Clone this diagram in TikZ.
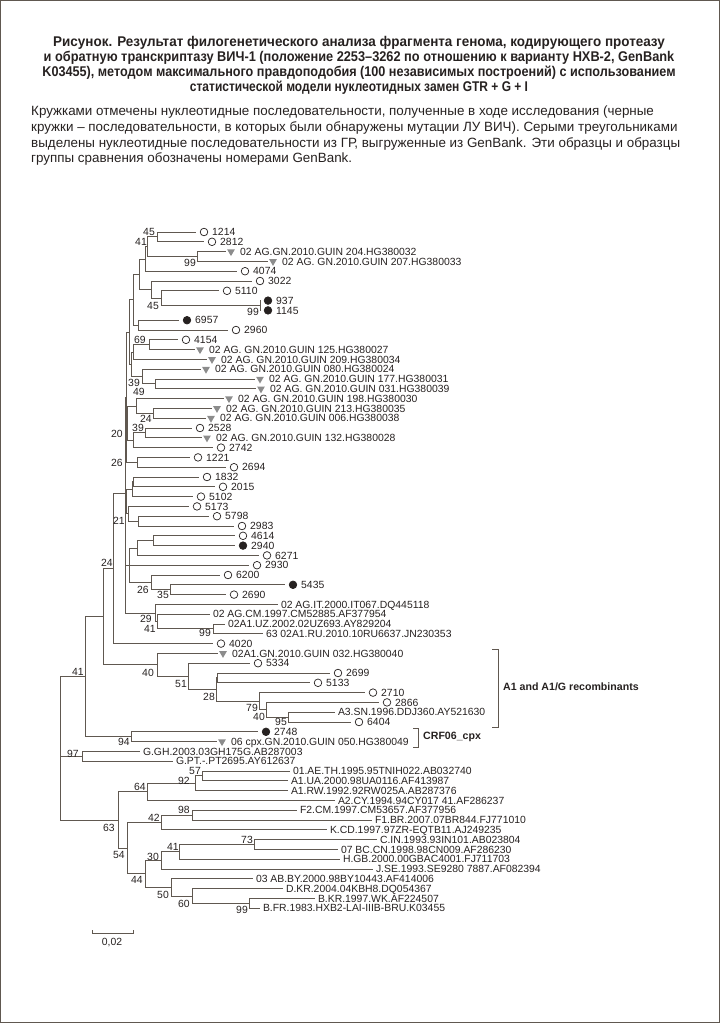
\documentclass[tikz,border=0pt]{standalone}
\usepackage{fontspec}
\usepackage{graphicx}
\setmainfont{Liberation Sans}
\usetikzlibrary{shapes.geometric,positioning}
\definecolor{branch}{RGB}{96,88,80}
\definecolor{ink}{RGB}{38,33,32}
\definecolor{greytri}{RGB}{140,140,140}
% row of a leaf -> y
\newcommand\rowy[1]{232+9.8*(#1-1)}
% leaves: name, x, row, text
\newcommand\opleaf[4]{\node[opn] (#1) at (#2,{\rowy{#3}}) {};
  \node[lbl] (#1t) at (#2+8,{\rowy{#3}}) {#4};}
\newcommand\blleaf[4]{\node[fil] (#1) at (#2,{\rowy{#3}}) {};
  \node[lbl] (#1t) at (#2+8,{\rowy{#3}}) {#4};}
\newcommand\trleaf[4]{\node[trg] (#1) at (#2,{\rowy{#3}}) {};
  \node[lbl] (#1t) at (#2+9,{\rowy{#3}}) {#4};}
\newcommand\txleaf[4]{\node[lbl,outer sep=3pt] (#1) at (#2,{\rowy{#3}}) {#4};}
% squeezed caption line
\newcommand\capline[2]{\scalebox{#1}[1]{#2}}

\begin{document}
\begin{tikzpicture}[x=1pt,y=-1pt,line join=miter,
  font=\fontsize{10.4}{12}\selectfont,
  br/.style={draw=branch,line width=0.9pt},
  lbl/.style={anchor=west,inner sep=0pt,text=ink,text height=7.4pt,text depth=0pt},
  opn/.style={circle,draw=ink,line width=0.7pt,minimum size=7.6pt,inner sep=0pt,outer sep=4.5pt},
  fil/.style={opn,fill=ink},
  trg/.style={regular polygon,regular polygon sides=3,shape border rotate=180,fill=greytri,minimum size=9pt,inner sep=0pt,outer sep=2pt},
  bs/.style={inner sep=0pt,text=ink},
  brk/.style={draw=branch,line width=0.9pt}]
\useasboundingbox (0,0) rectangle (720,1023);
\draw[branch,line width=1pt] (0.5,0.5) rectangle (719.5,1022.5);

% caption
\node[align=center,text=ink,font=\bfseries\fontsize{14.1}{15}\selectfont,anchor=north] (title) at (359,33) {%
\capline{0.955}{Рисунок. Результат филогенетического анализа фрагмента генома, кодирующего протеазу}\\
\capline{0.906}{и обратную транскриптазу ВИЧ-1 (положение 2253–3262 по отношению к варианту HXB-2, GenBank}\\
\capline{0.896}{K03455), методом максимального правдоподобия (100 независимых построений) с использованием}\\
\capline{0.85}{статистической модели нуклеотидных замен GTR + G + I}};
\node[align=left,text=ink,font=\fontsize{13.4}{15.6}\selectfont,anchor=north west,inner sep=0pt] (note) at (31,106) {%
Кружками отмечены нуклеотидные последовательности, полученные в ходе исследования (черные\\
кружки – последовательности, в которых были обнаружены мутации ЛУ ВИЧ). Серыми треугольниками\\
выделены нуклеотидные последовательности из ГР, выгруженные из GenBank. Эти образцы и образцы\\
группы сравнения обозначены номерами GenBank.};

% leaves
\opleaf{l1214}{204}{1}{1214}
\opleaf{l2812}{212}{2}{2812}
\trleaf{l204}{231}{3}{02 AG.GN.2010.GUIN 204.HG380032}
\trleaf{l207}{273}{4}{02 AG. GN.2010.GUIN 207.HG380033}
\opleaf{l4074}{245}{5}{4074}
\opleaf{l3022}{260}{6}{3022}
\opleaf{l5110}{227}{7}{5110}
\blleaf{l937}{268}{8}{937}
\blleaf{l1145}{268}{9}{1145}
\blleaf{l6957}{187}{10}{6957}
\opleaf{l2960}{236}{11}{2960}
\opleaf{l4154}{186}{12}{4154}
\trleaf{l125}{200}{13}{02 AG. GN.2010.GUIN 125.HG380027}
\trleaf{l209}{212}{14}{02 AG. GN.2010.GUIN 209.HG380034}
\trleaf{l080}{206}{15}{02 AG. GN.2010.GUIN 080.HG380024}
\trleaf{l177}{260}{16}{02 AG. GN.2010.GUIN 177.HG380031}
\trleaf{l031}{261}{17}{02 AG. GN.2010.GUIN 031.HG380039}
\trleaf{l198}{229}{18}{02 AG. GN.2010.GUIN 198.HG380030}
\trleaf{l213}{217}{19}{02 AG. GN.2010.GUIN 213.HG380035}
\trleaf{l006}{211}{20}{02 AG. GN.2010.GUIN 006.HG380038}
\opleaf{l2528}{200}{21}{2528}
\trleaf{l132}{207}{22}{02 AG. GN.2010.GUIN 132.HG380028}
\opleaf{l2742}{221}{23}{2742}
\opleaf{l1221}{198}{24}{1221}
\opleaf{l2694}{234}{25}{2694}
\opleaf{l1832}{207}{26}{1832}
\opleaf{l2015}{223}{27}{2015}
\opleaf{l5102}{201}{28}{5102}
\opleaf{l5173}{197}{29}{5173}
\opleaf{l5798}{217}{30}{5798}
\opleaf{l2983}{242}{31}{2983}
\opleaf{l4614}{243}{32}{4614}
\blleaf{l2940}{243}{33}{2940}
\opleaf{l6271}{267}{34}{6271}
\opleaf{l2930}{257}{35}{2930}
\opleaf{l6200}{228}{36}{6200}
\blleaf{l5435}{293}{37}{5435}
\opleaf{l2690}{234}{38}{2690}
\txleaf{lIT}{278}{39}{02 AG.IT.2000.IT067.DQ445118}
\txleaf{lCM}{210}{40}{02 AG.CM.1997.CM52885.AF377954}
\txleaf{lUZ}{225}{41}{02A1.UZ.2002.02UZ693.AY829204}
\txleaf{lRU}{263}{42}{63 02A1.RU.2010.10RU6637.JN230353}
\opleaf{l4020}{221}{43}{4020}
\trleaf{lGN}{223}{44}{02A1.GN.2010.GUIN 032.HG380040}
\opleaf{l5334}{258}{45}{5334}
\opleaf{l2699}{338}{46}{2699}
\opleaf{l5133}{318}{47}{5133}
\opleaf{l2710}{373}{48}{2710}
\opleaf{l2866}{387}{49}{2866}
\txleaf{lA3}{335}{50}{A3.SN.1996.DDJ360.AY521630}
\opleaf{l6404}{359}{51}{6404}
\blleaf{l2748}{266}{52}{2748}
\trleaf{lcpx}{222}{53}{06 cpx.GN.2010.GUIN 050.HG380049}
\txleaf{lGGH}{140}{54}{G.GH.2003.03GH175G.AB287003}
\txleaf{lGPT}{173}{55}{G.PT.-.PT2695.AY612637}
\txleaf{lAE}{290}{56}{01.AE.TH.1995.95TNIH022.AB032740}
\txleaf{lUA}{288}{57}{A1.UA.2000.98UA0116.AF413987}
\txleaf{lRW}{288}{58}{A1.RW.1992.92RW025A.AB287376}
\txleaf{lCY}{335}{59}{A2.CY.1994.94CY017 41.AF286237}
\txleaf{lF2}{297}{60}{F2.CM.1997.CM53657.AF377956}
\txleaf{lF1}{372}{61}{F1.BR.2007.07BR844.FJ771010}
\txleaf{lKCD}{327}{62}{K.CD.1997.97ZR-EQTB11.AJ249235}
\txleaf{lCIN}{377}{63}{C.IN.1993.93IN101.AB023804}
\txleaf{lBC}{338}{64}{07 BC.CN.1998.98CN009.AF286230}
\txleaf{lHGB}{340}{65}{H.GB.2000.00GBAC4001.FJ711703}
\txleaf{lJSE}{373}{66}{J.SE.1993.SE9280 7887.AF082394}
\txleaf{lAB}{253}{67}{03 AB.BY.2000.98BY10443.AF414006}
\txleaf{lDKR}{283}{68}{D.KR.2004.04KBH8.DQ054367}
\txleaf{lBKR}{315}{69}{B.KR.1997.WK.AF224507}
\txleaf{lBFR}{260}{70}{B.FR.1983.HXB2-LAI-IIIB-BRU.K03455}

% internal nodes
\coordinate (n45a) at (157,236.9);
\coordinate (n99a) at (197,256.5);
\coordinate (n41a) at (147,246.7);
\coordinate (q1) at (145,259.0);
\coordinate (n99b) at (260,305.5);
\coordinate (n45b) at (161,298.2);
\coordinate (q2) at (151,289.6);
\coordinate (q3) at (139,274.3);
\coordinate (q4) at (138,325.1);
\coordinate (q5) at (133,299.7);
\coordinate (n69) at (149,344.7);
\coordinate (q6) at (133,352.1);
\coordinate (n49) at (155,383.9);
\coordinate (n39a) at (142,376.6);
\coordinate (q7) at (131,364.3);
\coordinate (n24b) at (153,413.3);
\coordinate (q8) at (136,406.0);
\coordinate (n39b) at (145,432.9);
\coordinate (q9) at (133,440.3);
\coordinate (n20) at (127.5,423.1);
\coordinate (n26a) at (137,462.3);
\coordinate (q10) at (133,481.9);
\coordinate (q11) at (132,489.3);
\coordinate (q12) at (138,521.1);
\coordinate (q13) at (128,513.8);
\coordinate (n21) at (126,501.5);
\coordinate (n14) at (153,540.7);
\coordinate (q15) at (137,548.0);
\coordinate (n35) at (170,589.7);
\coordinate (n26b) at (151,582.4);
\coordinate (q17) at (129,565.2);
\coordinate (n99c) at (213,628.9);
\coordinate (n41c) at (157,621.5);
\coordinate (n29) at (155,613.0);
\coordinate (z) at (125.5,589.1);
\coordinate (c1) at (129,332.0);
\coordinate (ua) at (126,397.15);
\coordinate (uu) at (125,493.1);
\coordinate (n24) at (113,568.35);
\coordinate (q18) at (217,677.9);
\coordinate (n95) at (288,717.1);
\coordinate (n40b) at (266,709.8);
\coordinate (n79) at (259,701.2);
\coordinate (n28) at (216,689.6);
\coordinate (n51) at (188,676.4);
\coordinate (n40) at (157,664.9);
\coordinate (x) at (103,616.6);
\coordinate (n94) at (131,736.7);
\coordinate (n41) at (85,676.65);
\coordinate (n97) at (82,756.3);
\coordinate (n57) at (202,775.9);
\coordinate (n92) at (195,783.3);
\coordinate (n64) at (147,791.8);
\coordinate (n98) at (192,815.1);
\coordinate (n42) at (161,822.5);
\coordinate (n73) at (254,844.5);
\coordinate (n41b) at (179,851.9);
\coordinate (n30) at (161,860.4);
\coordinate (n99d) at (249,903.3);
\coordinate (n60) at (192,896.0);
\coordinate (n50) at (171,887.4);
\coordinate (n44) at (145,873.9);
\coordinate (n54) at (127,848.2);
\coordinate (n63) at (118,820.0);
\coordinate (root) at (60,748.3);

% branches between internal nodes
\foreach \p/\c in {root/n41,root/n97,root/n63,n41/x,n41/n94,x/n24,x/n40,n24/uu,
  uu/ua,uu/n21,uu/z,ua/c1,ua/n20,ua/n26a,c1/q5,c1/q7,q5/q3,q5/q4,
  q3/q1,q3/q2,q1/n41a,n41a/n45a,n41a/n99a,q2/n45b,n45b/n99b,
  q7/q6,q7/n39a,q6/n69,n39a/n49,n20/q8,n20/q9,q8/n24b,q9/n39b,
  n21/q11,n21/q13,q11/q10,q13/q12,z/q17,z/n29,q17/q15,q17/n26b,q15/n14,n26b/n35,
  n29/n41c,n41c/n99c,n40/n51,n51/n28,n28/q18,n28/n79,n79/n40b,n40b/n95,
  n63/n64,n63/n54,n64/n92,n92/n57,n54/n42,n54/n44,n42/n98,n44/n30,n44/n50,
  n30/n41b,n41b/n73,n50/n60,n60/n99d}
  \draw[br] (\p) |- (\c);

% branches to leaves
\foreach \p/\c in {n45a/l1214,n45a/l2812,n99a/l204,n99a/l207,q1/l4074,q2/l3022,
  n45b/l5110,n99b/l937,n99b/l1145,q4/l6957,q4/l2960,n69/l4154,n69/l125,q6/l209,
  n39a/l080,n49/l177,n49/l031,q8/l198,n24b/l213,n24b/l006,n39b/l2528,n39b/l132,
  q9/l2742,n26a/l1221,n26a/l2694,q10/l1832,q10/l2015,q11/l5102,q13/l5173,
  q12/l5798,q12/l2983,n14/l4614,n14/l2940,q15/l6271,q17/l2930,n26b/l6200,
  n35/l5435,n35/l2690,n29/lIT,n41c/lCM,n99c/lUZ,n99c/lRU,n24/l4020,n40/lGN,
  n51/l5334,q18/l2699,q18/l5133,n79/l2710,n40b/l2866,n95/lA3,n95/l6404,
  n94/l2748,n94/lcpx,n97/lGGH,n97/lGPT,n57/lAE,n57/lUA,n92/lRW,n64/lCY,
  n98/lF2,n98/lF1,n42/lKCD,n73/lCIN,n73/lBC,n41b/lHGB,n30/lJSE,n50/lAB,
  n60/lDKR,n99d/lBKR,n99d/lBFR}
  \draw[br] (\p) |- (\c.west);

% bootstrap values
\foreach \x/\y/\t [count=\k] in {149/232/45,141/242/41,190/263/99,153/306/45,
  253/312/99,140/340/69,134/383/39,139/392/49,146/419/24,138/428/39,117/434/20,
  117/463/26,119/521/21,107/563/24,143/590/26,163/595/35,146/619/29,150/629/41,
  205/633/99,78/672/41,148/673/40,181/684/51,209/697/28,252/708/79,259/717/40,
  281/722/95,124/742/94,73/754/97,195/771/57,184/781/92,140/787/64,184/810/98,
  154/818/42,109/828/63,173/847/41,247/840/73,119/855/54,153/857/30,137/880/44,
  163/895/50,184/904/60,242/910/99}
  \node[bs] (b\k) at (\x,\y) {\t};

% groups
\coordinate (a1top) at (498,649);
\coordinate (a1bot) at (498,727);
\draw[brk] ([xshift=-6pt]a1top) -- (a1top) -- (a1bot) -- ([xshift=-6pt]a1bot);
\node[bs,anchor=west,font=\bfseries\fontsize{10.6}{12}\selectfont] (a1lab) at (503,687) {A1 and A1/G recombinants};
\coordinate (crftop) at (418,728);
\coordinate (crfbot) at (418,747);
\draw[brk] ([xshift=-5pt]crftop) -- (crftop) -- (crfbot) -- ([xshift=-5pt]crfbot);
\node[bs,anchor=west,font=\bfseries\fontsize{10.6}{12}\selectfont] (crflab) at (423,737) {CRF06\_cpx};

% scale bar
\coordinate (sbl) at (92,933);
\coordinate (sbr) at (133,933);
\draw[br] ([yshift=3pt]sbl) -- (sbl) -- (sbr) -- ([yshift=3pt]sbr);
\node[bs] (sblab) at (112,943) {0,02};
\end{tikzpicture}
\end{document}
